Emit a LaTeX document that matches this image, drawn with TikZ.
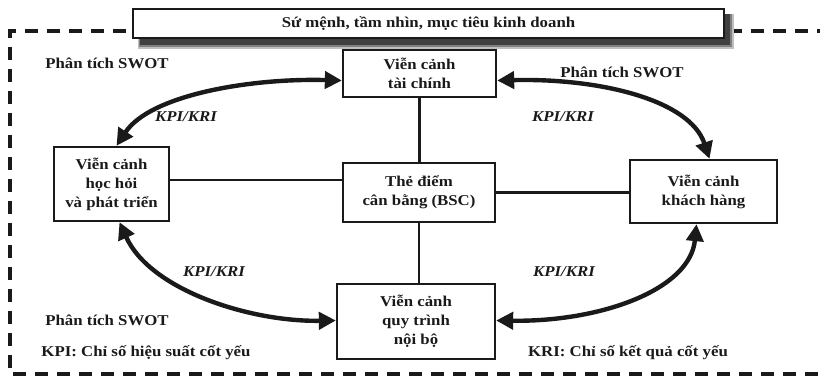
\documentclass[tikz,border=0pt]{standalone}
\usepackage{fontspec}
\setmainfont{Liberation Serif}[FakeStretch=1.12]
\usetikzlibrary{arrows.meta}
\definecolor{ink}{HTML}{1A1A1A}
\tikzset{
  txt/.style={font=\fontsize{15}{18}\selectfont\bfseries, text=ink, inner sep=0pt},
  kpi/.style={font=\fontsize{15}{18}\selectfont\bfseries\itshape, text=ink, inner sep=0pt},
  box/.style={draw=ink, line width=2.3pt, fill=white, align=center, inner sep=0pt,
    font=\fontsize{15}{19}\selectfont\bfseries, text=ink},
  link/.style={draw=ink, line width=2.3pt},
  arc/.style={draw=ink, line width=4.4pt, {Triangle[length=17pt,width=17pt]}-{Triangle[length=17pt,width=17pt]}},
  frame/.style={draw=ink, line width=3.2pt, dash pattern=on 13pt off 9pt}
}
\begin{document}
\begin{tikzpicture}[x=1pt,y=-1pt]
\useasboundingbox (0,0) rectangle (820,387);
\fill[white] (0,0) rectangle (820,387);
% dashed frame
\draw[frame] (830,31) -- (10,31) -- (10,374) -- (830,374);
% banner shadow
\fill[black!25] (138,14) rectangle (734,49);
\fill[black!50] (139,14) rectangle (732,47);
\fill[black!75] (140,14) rectangle (730,45);
% banner
\node[box, minimum width=591pt, minimum height=29pt] (mission) at (428.5,23.5) {Sứ mệnh, tầm nhìn, mục tiêu kinh doanh};
% boxes
\node[box, minimum width=153pt, minimum height=47pt] (fin) at (419.5,73.5) {Viễn cảnh\\tài chính};
\node[box, minimum width=115pt, minimum height=74pt] (learn) at (111.5,184) {Viễn cảnh\\học hỏi\\và phát triển};
\node[box, minimum width=152pt, minimum height=59pt] (bsc) at (419,192.5) {Thẻ điểm\\cân bằng (BSC)};
\node[box, minimum width=147pt, minimum height=63pt] (cust) at (703.5,191.5) {Viễn cảnh\\khách hàng};
\node[box, minimum width=158pt, minimum height=75pt] (proc) at (416,321.5) {Viễn cảnh\\quy trình\\nội bộ};
% straight links
\draw[link] (fin.south) -- (fin.south |- bsc.north);
\draw[link] (bsc.south) -- (bsc.south |- proc.north);
\draw[link] ([yshift=4pt]learn.east) -- ([yshift=4pt]learn.east -| bsc.west);
\draw[link] (bsc.east) -- (bsc.east -| cust.west);
% curved double arrows
\draw[arc] ([xshift=5pt]learn.north) .. controls (150,95) and (250,78) .. ([yshift=-7pt]fin.west);
\draw[arc] ([yshift=-7pt]fin.east) .. controls (600,78) and (690,100) .. ([xshift=6pt]cust.north);
\draw[arc] ([xshift=8pt]learn.south) .. controls (150,290) and (250,322) .. ([yshift=1pt]proc.west);
\draw[arc] ([yshift=1pt]proc.east) .. controls (600,322) and (690,290) .. ([xshift=-7pt]cust.south);
% labels
\node[txt] (swot1) at (107,63) {Phân tích SWOT};
\node[txt] (swot2) at (622,72) {Phân tích SWOT};
\node[txt] (swot3) at (107,320) {Phân tích SWOT};
\node[kpi] (k1) at (186,117) {KPI/KRI};
\node[kpi] (k2) at (563,117) {KPI/KRI};
\node[kpi] (k3) at (214,272) {KPI/KRI};
\node[kpi] (k4) at (564,272) {KPI/KRI};
\node[txt] (kpidef) at (146,353) {KPI: Chỉ số hiệu suất cốt yếu};
\node[txt] (kridef) at (628,353) {KRI: Chỉ số kết quả cốt yếu};
\end{tikzpicture}
\end{document}
